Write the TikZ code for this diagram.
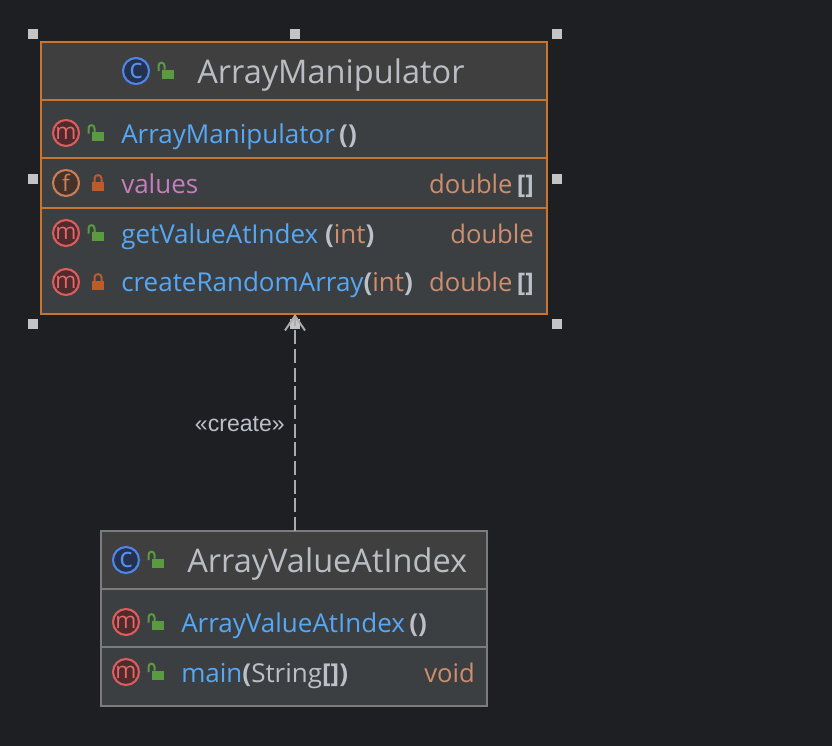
\documentclass[tikz,border=0pt]{standalone}
\usepackage{fontspec}
\setmainfont{Open Sans}
\newfontfamily\labelfont{Liberation Sans}
\usetikzlibrary{arrows.meta}

\definecolor{canvasbg}{HTML}{1E1F22}
\definecolor{headbg}{HTML}{3F3F3F}
\definecolor{bodybg}{HTML}{3C3F41}
\definecolor{selectedline}{HTML}{C9752D}
\definecolor{plainline}{HTML}{7C7C7C}
\definecolor{handlegray}{HTML}{C4C4C4}
\definecolor{dashgray}{HTML}{ABABAB}
\definecolor{titletext}{HTML}{BABEC4}
\definecolor{methodtext}{HTML}{56A8F5}
\definecolor{fieldtext}{HTML}{C77DBB}
\definecolor{typetext}{HTML}{CF8E6D}
\definecolor{bracetext}{HTML}{BCC0C8}
\definecolor{openlock}{HTML}{5A9A40}
\definecolor{shutlock}{HTML}{BD5B2B}
\definecolor{mring}{HTML}{DB5C5C}
\definecolor{mfill}{HTML}{4F2B2E}
\definecolor{mtext}{HTML}{E36A6A}
\definecolor{fring}{HTML}{C77D55}
\definecolor{ffill}{HTML}{45322B}
\definecolor{ftext}{HTML}{C9825C}
\definecolor{cring}{HTML}{4F84E8}
\definecolor{cfill}{HTML}{25324D}
\definecolor{ctext}{HTML}{5A8FF0}

\newcommand{\bracepair}{\textcolor{bracetext}{\textbf{[]}}}
\newcommand{\parenopen}{\textcolor{bracetext}{\textbf{(}}}
\newcommand{\parenshut}{\textcolor{bracetext}{\textbf{)}}}

\tikzset{
	classbody/.style={draw=#1,line width=1.2pt,fill=bodybg,inner sep=0pt,outer sep=0pt,anchor=north west},
	classhead/.style={draw=none,fill=headbg,inner sep=0pt,anchor=north west},
	divider/.style={line width=1.2pt},
	handle/.style={fill=handlegray,inner sep=0pt,minimum size=7.5pt},
	titlelabel/.style={anchor=base west,inner sep=0pt,text=titletext,font=\fontsize{24.4}{24.4}\selectfont},
	memberlabel/.style={anchor=base west,inner sep=0pt,text=#1,font=\fontsize{19.5}{19.5}\selectfont},
	typelabel/.style={anchor=base east,inner sep=0pt,text=typetext,font=\fontsize{19.2}{19.2}\selectfont},
	badge/.style n args={3}{circle,draw=#1,fill=#2,text=#3,line width=1.6pt,minimum size=19.5pt,inner sep=0pt,font=\fontsize{17}{17}\selectfont},
	badgem/.style={badge={mring}{mfill}{mtext}},
	badgef/.style={badge={fring}{ffill}{ftext}},
	badgec/.style={badge={cring}{cfill}{ctext},font=\fontsize{21}{21}\selectfont},
	unlocked/.pic={
		\fill[openlock] (-6,-4.5) rectangle (6,4.5);
		\draw[openlock,line width=1.5pt] (-9.5,-3) -- (-9.5,-8) .. controls (-9.5,-12.5) and (-3.5,-12.5) .. (-3.5,-8) -- (-3.5,-4.5);
	},
	locked/.pic={
		\fill[shutlock] (-6,-4.5) rectangle (6,4.5);
		\draw[shutlock,line width=1.5pt] (-3.5,-4.5) -- (-3.5,-8) .. controls (-3.5,-12.5) and (3.5,-12.5) .. (3.5,-8) -- (3.5,-4.5);
	},
}

\begin{document}
\begin{tikzpicture}[x=0.75pt,y=-0.75pt]
	\useasboundingbox[fill=canvasbg] (0,0) rectangle (832,746);

	% upper class
	\node[classbody=selectedline,minimum width=379.5pt,minimum height=204pt] (manipulator) at (41,42) {};
	\node[classhead,minimum width=378pt,minimum height=42.5pt] (manipulatorhead) at (42,43) {};
	\draw[divider,selectedline]
		(41,100) -- (547,100)
		(41,158) -- (547,158)
		(41,208) -- (547,208);

	\node[badgec] (iconmanip) at (136,71) {c};
	\pic at (168,74) {unlocked};
	\node[titlelabel] (titlemanip) at (197,83) {ArrayManipulator};

	\node[badgem] (iconctor) at (66,133) {m};
	\pic at (98,136.5) {unlocked};
	\node[memberlabel=methodtext] (ctor) at (121,143) {ArrayManipulator\,\parenopen\parenshut};

	\node[badgef] (iconvalues) at (66,183) {f};
	\pic at (98,186.5) {locked};
	\node[memberlabel=fieldtext] (values) at (121,193) {values};
	\node[typelabel] (valuestype) at (534,193) {double\,\bracepair};

	\node[badgem] (icongetter) at (66,233) {m};
	\pic at (98,236.5) {unlocked};
	\node[memberlabel=methodtext] (getter) at (121,243) {getValueAtIndex \parenopen\textcolor{typetext}{int}\parenshut};
	\node[typelabel] (gettertype) at (534,243) {double};

	\node[badgem] (iconrandom) at (66,282) {m};
	\pic at (98,285.5) {locked};
	\node[memberlabel=methodtext] (random) at (121,291) {createRandomArray\parenopen\textcolor{typetext}{int}\parenshut};
	\node[typelabel] (randomtype) at (534,291) {double\,\bracepair};

	% selection handles
	\foreach \hx/\hy/\hname in {33/34/a,295/34/b,557/34/c,33/179/d,557/179/e,33/324/f,295/324/g,557/324/h}
		\node[handle] (handle\hname) at (\hx,\hy) {};

	% lower class
	\node[classbody=plainline,minimum width=289.5pt,minimum height=131.25pt] (index) at (101,531) {};
	\node[classhead,minimum width=288pt,minimum height=42.5pt] (indexhead) at (102,532) {};
	\draw[divider,plainline]
		(101,589) -- (487,589)
		(101,647) -- (487,647);

	\node[badgec] (iconindex) at (126,560) {c};
	\pic at (158,563) {unlocked};
	\node[titlelabel] (titleindex) at (187,572) {ArrayValueAtIndex};

	\node[badgem] (iconindexctor) at (126,622) {m};
	\pic at (158,625.5) {unlocked};
	\node[memberlabel=methodtext] (indexctor) at (181,632) {ArrayValueAtIndex\,\parenopen\parenshut};

	\node[badgem] (iconmain) at (126,672) {m};
	\pic at (158,675) {unlocked};
	\node[memberlabel=methodtext] (mainmethod) at (181,682) {main\parenopen\textcolor{bracetext}{String}\bracepair\parenshut};
	\node[typelabel] (maintype) at (475,682) {void};

	% dependency
	\draw[dashgray,line width=1.5pt,dash pattern=on 10.5pt off 3.5pt,-{Straight Barb[length=11pt,width=15pt,line width=1.5pt]}]
		(index.north -| handleg) -- (manipulator.south -| handleg);
	\node[anchor=base east,inner sep=0pt,text=bracetext,font=\labelfont\fontsize{17.3}{17.3}\selectfont] (createlabel) at (285,431) {«create»};
\end{tikzpicture}
\end{document}
